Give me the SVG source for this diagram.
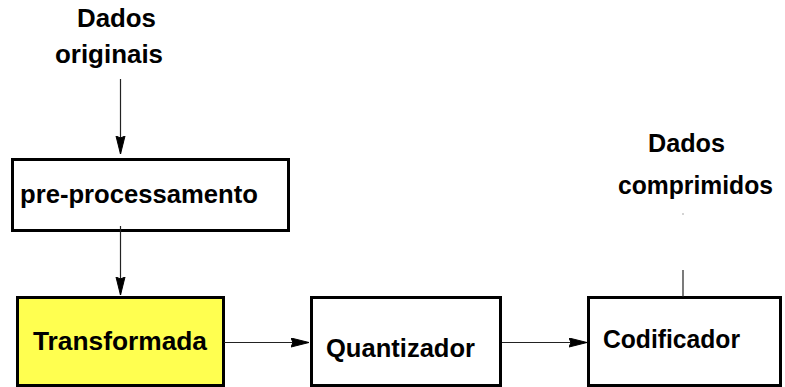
<svg xmlns="http://www.w3.org/2000/svg" width="785" height="387" viewBox="0 0 785 387">
<style>
.box{fill:#fff;stroke:#000;stroke-width:3}
.t{font-family:"Liberation Sans",Arial,sans-serif;font-weight:bold;font-size:25px;fill:#000}
.c{stroke:#222;stroke-width:1.2;fill:none}
</style>
<defs>
<marker id="ah" markerUnits="userSpaceOnUse" markerWidth="20" markerHeight="12" refX="18" refY="5" orient="auto">
<path d="M0,0.5 L18,5 L0,9.5 L2,5 Z" fill="#000" stroke="#000" stroke-width="1" stroke-linejoin="round"/>
</marker>
</defs>
<rect width="785" height="387" fill="#fff"/>
<g id="label-dados-originais">
<text class="t" x="77" y="27" textLength="79" lengthAdjust="spacingAndGlyphs">Dados</text>
<text class="t" x="55" y="63" textLength="108" lengthAdjust="spacingAndGlyphs">originais</text>
</g>
<g id="label-dados-comprimidos">
<text class="t" x="648" y="152" textLength="77" lengthAdjust="spacingAndGlyphs">Dados</text>
<text class="t" x="618" y="194" textLength="155" lengthAdjust="spacingAndGlyphs">comprimidos</text>
<rect x="682.5" y="213.5" width="1" height="1" fill="#555"/>
</g>
<g id="pre-processamento">
<rect class="box" x="12.5" y="159.5" width="276" height="71"/>
<text class="t" x="20" y="203" textLength="238" lengthAdjust="spacingAndGlyphs">pre-processamento</text>
</g>
<g id="transformada">
<rect class="box" x="17.5" y="297.5" width="206" height="88" style="fill:#ffff50"/>
<text class="t" x="33" y="350" textLength="174" lengthAdjust="spacingAndGlyphs">Transformada</text>
</g>
<g id="quantizador">
<rect class="box" x="311.5" y="297.5" width="189" height="88"/>
<text class="t" x="326" y="357" textLength="149" lengthAdjust="spacingAndGlyphs">Quantizador</text>
</g>
<g id="codificador">
<rect class="box" x="588.5" y="297.5" width="192" height="88"/>
<text class="t" x="603" y="348" textLength="137" lengthAdjust="spacingAndGlyphs">Codificador</text>
</g>
<g id="connectors">
<line class="c" x1="120.5" y1="79" x2="120.5" y2="154" marker-end="url(#ah)"/>
<line class="c" x1="120.5" y1="226" x2="120.5" y2="295" marker-end="url(#ah)"/>
<line class="c" x1="224" y1="342.5" x2="309" y2="342.5" marker-end="url(#ah)"/>
<line class="c" x1="502" y1="342.5" x2="587" y2="342.5" marker-end="url(#ah)"/>
<line class="c" x1="683" y1="270" x2="683" y2="297"/>
</g>
</svg>
